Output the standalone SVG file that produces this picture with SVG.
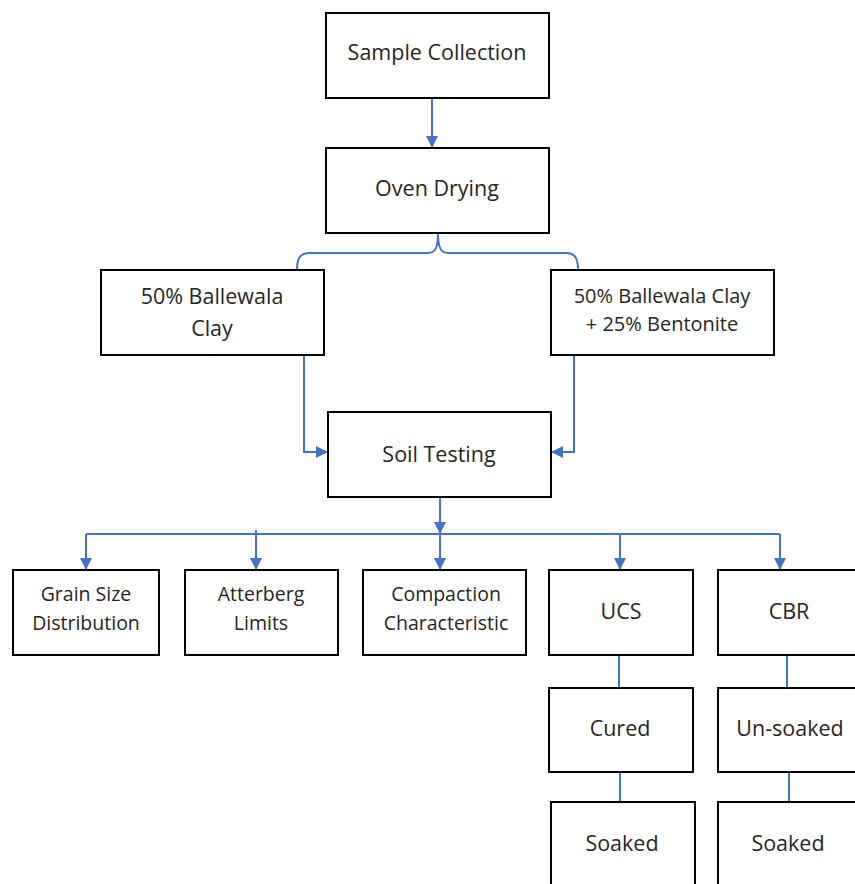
<svg xmlns="http://www.w3.org/2000/svg" width="855" height="884" viewBox="0 0 855 884">
<style>
.box{fill:#fff;stroke:#000;stroke-width:2}
.t{font-family:"Open Sans","Liberation Sans",sans-serif;font-size:21.5px;fill:#262626;text-anchor:middle}
.s{font-size:19.5px}
.m{font-size:20px}
.c{fill:none;stroke:#4472C4;stroke-width:2}
</style>
<defs>
<marker id="ah" markerWidth="12" markerHeight="12" refX="11" refY="6" orient="auto" markerUnits="userSpaceOnUse">
<path d="M0,0 L12,6 L0,12 Z" fill="#4472C4"/>
</marker>
</defs>
<rect width="855" height="884" fill="#fff"/>
<g id="connectors">
<path class="c" d="M432,98 V147" marker-end="url(#ah)"/>
<path class="c" d="M297,270 C297,258 300,253 310,253 L428,253 C435,253 438,248 438,233 C438,248 441,253 448,253 L566,253 C575,253 578,258 578,270"/>
<path class="c" d="M304,355 V452 H327" marker-end="url(#ah)"/>
<path class="c" d="M574,355 V452 H552" marker-end="url(#ah)"/>
<path class="c" d="M440,497 V533" marker-end="url(#ah)"/>
<path class="c" d="M86,534 H780"/>
<path class="c" d="M86,534 V569" marker-end="url(#ah)"/>
<path class="c" d="M256,530 V569" marker-end="url(#ah)"/>
<path class="c" d="M440,534 V569" marker-end="url(#ah)"/>
<path class="c" d="M620,533 V569" marker-end="url(#ah)"/>
<path class="c" d="M780,534 V569" marker-end="url(#ah)"/>
<path class="c" d="M619,655 V688"/>
<path class="c" d="M620,772 V802"/>
<path class="c" d="M787,655 V688"/>
<path class="c" d="M789,772 V802"/>
</g>
<g id="sample"><rect class="box" x="326" y="13" width="223" height="85"/><text class="t" x="437" y="60" font-size="22px">Sample Collection</text></g>
<g id="oven"><rect class="box" x="326" y="148" width="223" height="85"/><text class="t" x="437" y="196" font-size="22px">Oven Drying</text></g>
<g id="clay50"><rect class="box" x="101" y="270" width="223" height="85"/><text class="t" x="212" y="304">50% Ballewala</text><text class="t" x="212" y="336">Clay</text></g>
<g id="clayBent"><rect class="box" x="551" y="270" width="223" height="85"/><text class="t m" x="662" y="303">50% Ballewala Clay</text><text class="t m" x="662" y="331">+ 25% Bentonite</text></g>
<g id="soil"><rect class="box" x="328" y="412" width="223" height="85"/><text class="t" x="439" y="462" font-size="22px">Soil Testing</text></g>
<g id="grain"><rect class="box" x="13" y="570" width="146" height="85"/><text class="t s" x="86" y="601">Grain Size</text><text class="t s" x="86" y="630">Distribution</text></g>
<g id="atterberg"><rect class="box" x="185" y="570" width="153" height="85"/><text class="t s" x="261" y="601">Atterberg</text><text class="t s" x="261" y="630">Limits</text></g>
<g id="compaction"><rect class="box" x="363" y="570" width="163" height="85"/><text class="t s" x="446" y="601">Compaction</text><text class="t s" x="446" y="630">Characteristic</text></g>
<g id="ucs"><rect class="box" x="549" y="570" width="144" height="85"/><text class="t" x="621" y="619">UCS</text></g>
<g id="cbr"><rect class="box" x="718" y="570" width="145" height="85"/><text class="t" x="789" y="619">CBR</text></g>
<g id="cured"><rect class="box" x="549" y="688" width="144" height="84"/><text class="t" x="620" y="736" font-size="22px">Cured</text></g>
<g id="unsoaked"><rect class="box" x="718" y="688" width="145" height="84"/><text class="t" x="790" y="736" font-size="22px">Un-soaked</text></g>
<g id="soakedU"><rect class="box" x="551" y="802" width="144" height="100"/><text class="t" x="622" y="851" font-size="22px">Soaked</text></g>
<g id="soakedC"><rect class="box" x="718" y="802" width="145" height="100"/><text class="t" x="788" y="851" font-size="22px">Soaked</text></g>
</svg>
